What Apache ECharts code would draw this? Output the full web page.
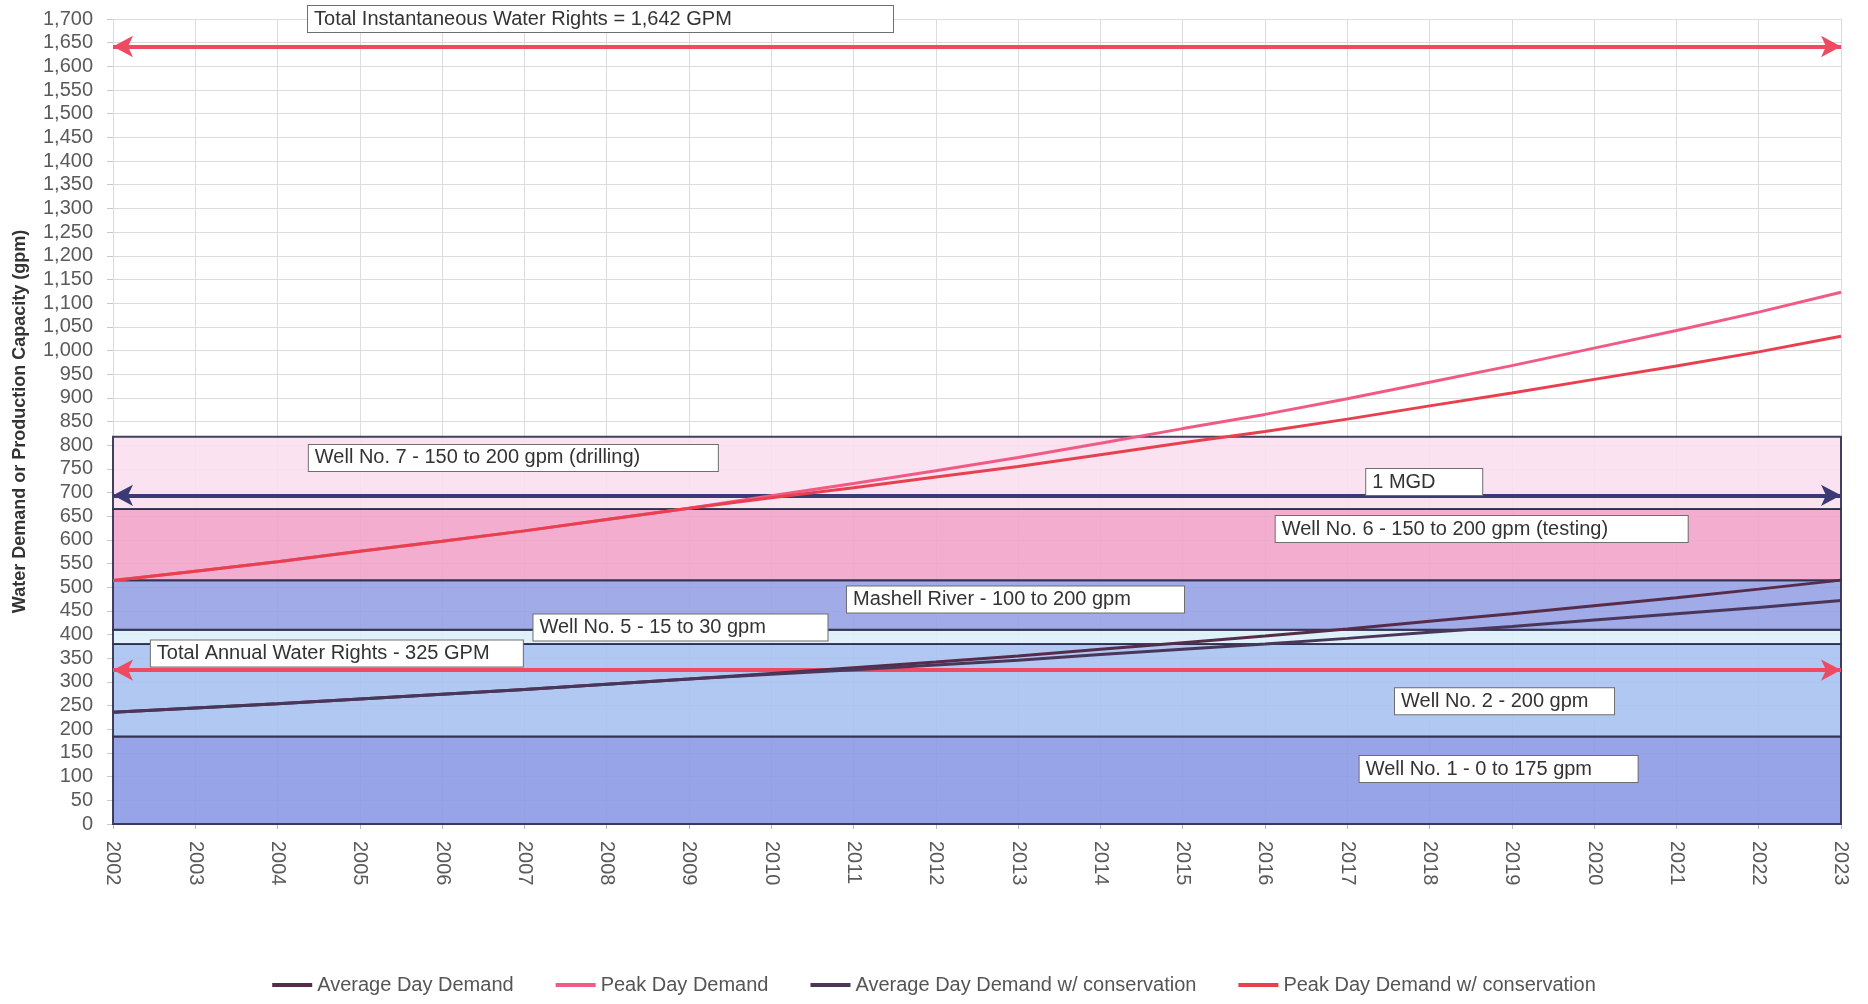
<!DOCTYPE html>
<html>
<head>
<meta charset="utf-8">
<script src="https://cdn.jsdelivr.net/npm/echarts@6/dist/echarts.min.js"></script>
<style>
html,body{margin:0;padding:0;background:#ffffff;}
#chart{width:1868px;height:1004px;}
</style>
</head>
<body>
<div id="chart"></div>
<script>
// ---------------- data ----------------
const years = [2002,2003,2004,2005,2006,2007,2008,2009,2010,2011,2012,2013,2014,2015,2016,2017,2018,2019,2020,2021,2022,2023];
const avgDemand      = [236,245,254,264,274,284,295,306,318,330,342,355,369,383,397,412,428,444,461,478,496,515];
const peakDemand     = [514,534,554,576,597,619,643,667,693,719,746,774,804,835,865,898,933,968,1005,1042,1081,1123];
const avgDemandCons  = [236,245,254,264,274,284,295,306,316,326,336,346,358,369,380,392,405,417,431,444,457,472];
const peakDemandCons = [514,534,554,576,597,619,643,667,689,710,733,755,780,805,829,855,883,910,939,967,997,1030];

const seriesNames = ['Average Day Demand','Peak Day Demand','Average Day Demand w/ conservation','Peak Day Demand w/ conservation'];

// supply bands (gpm)
const bandNames = ['Well No. 1','Well No. 2','Well No. 5','Mashell River','Well No. 6','Well No. 7'];
const bandLower = [0,185,380,410,515,665];
const bandUpper = [185,380,410,515,665,818];

// reference levels (gpm)
const instantaneousRights = 1642;
const annualRights = 325;
const oneMGD = 694;

const yTickMin = 0, yTickMax = 1700, yTickStep = 50;

// annotation texts
const annoTexts = [
  'Total Instantaneous Water Rights = 1,642 GPM',
  'Well No. 7 - 150 to 200 gpm (drilling)',
  '1 MGD',
  'Well No. 6 - 150 to 200 gpm (testing)',
  'Mashell River - 100 to 200 gpm',
  'Well No. 5 - 15 to 30 gpm',
  'Total Annual Water Rights - 325 GPM',
  'Well No. 2 - 200 gpm',
  'Well No. 1 - 0 to 175 gpm'
];

// ---------------- layout / style ----------------
const annoAnchor = [ // [year, gpm] at left-middle of box
  [2004.37,1700],[2004.38,773],[2017.23,722],[2016.13,623],[2010.92,474],
  [2007.11,415],[2002.46,360],[2017.58,259],[2017.15,116]
];
const annoWidth = [585,409,116,412,337,294,372,219,278];

const bandColors = ['#8c9be6','#a8c2f2','#dcf0fa','#96a2e6','#f2a4c9','#fbdff0'];
const lineColors = ['#562c4a','#f25a86','#4a3659','#e8404f'];
const FONT = '"Liberation Sans", Arial, sans-serif';

const chart = echarts.init(document.getElementById('chart'), null, {renderer:'canvas'});

function pairs(arr){ return years.map((y,i)=>[y,arr[i]]); }

function arrowSeries(value, color){
  return {
    type:'line', data:[], silent:true, z:4,
    markLine:{
      silent:true, animation:false,
      symbol:['arrow','arrow'], symbolSize:[16,20],
      label:{show:false},
      lineStyle:{color:color, width:4, type:'solid', opacity:1},
      itemStyle:{color:color},
      data:[[{coord:[years[0],value]},{coord:[years[years.length-1],value]}]]
    }
  };
}

const option = {
  animation:false,
  backgroundColor:'#ffffff',
  textStyle:{fontFamily:FONT},
  grid:{left:113,right:27,top:19,bottom:180,containLabel:false},
  legend:{
    data:seriesNames,
    top:970, left:'center',
    icon:'rect', itemWidth:40, itemHeight:4, itemGap:42,
    textStyle:{fontSize:20,color:'#555',fontFamily:FONT}
  },
  xAxis:{
    type:'value', min:years[0], max:years[years.length-1], interval:1,
    axisLine:{show:true,lineStyle:{color:'#bbbbbb'}},
    axisTick:{show:true,length:5,lineStyle:{color:'#bbbbbb'}},
    axisLabel:{rotate:-90, fontSize:20, color:'#5a5a5a', margin:17, fontFamily:FONT,
      formatter:function(v){return String(v);}},
    splitLine:{show:true,lineStyle:{color:'#dcdcdc',width:1}}
  },
  yAxis:{
    type:'value', min:yTickMin, max:yTickMax, interval:yTickStep,
    name:'Water Demand or Production Capacity (gpm)',
    nameLocation:'middle', nameGap:84,
    nameTextStyle:{fontSize:18,fontWeight:'bold',color:'#333',fontFamily:FONT},
    axisLine:{show:false},
    axisTick:{show:true,length:6,lineStyle:{color:'#c8c8c8'}},
    axisLabel:{fontSize:20,color:'#5a5a5a',margin:20,fontFamily:FONT},
    splitLine:{show:true,lineStyle:{color:'#dcdcdc',width:1}}
  },
  series:[
    {
      name:'bands', type:'line', data:[], silent:true, z:1,
      markArea:{
        silent:true,
        label:{show:false},
        data: bandNames.map((n,i)=>[
          {name:n, yAxis:bandLower[i], itemStyle:{color:bandColors[i], opacity:0.9, borderColor:'#2e2d4d', borderWidth:2}},
          {yAxis:bandUpper[i]}
        ])
      }
    },
    arrowSeries(instantaneousRights,'#ee4a62'),
    arrowSeries(oneMGD,'#3c3a74'),
    arrowSeries(annualRights,'#ee4a62'),
    {name:seriesNames[0],type:'line',data:pairs(avgDemand),showSymbol:false,symbol:'none',z:5,
      color:lineColors[0],lineStyle:{width:3,color:lineColors[0]}},
    {name:seriesNames[1],type:'line',data:pairs(peakDemand),showSymbol:false,symbol:'none',z:5,
      color:lineColors[1],lineStyle:{width:3,color:lineColors[1]}},
    {name:seriesNames[2],type:'line',data:pairs(avgDemandCons),showSymbol:false,symbol:'none',z:5,
      color:lineColors[2],lineStyle:{width:3,color:lineColors[2]}},
    {name:seriesNames[3],type:'line',data:pairs(peakDemandCons),showSymbol:false,symbol:'none',z:5,
      color:lineColors[3],lineStyle:{width:3,color:lineColors[3]}}
  ]
};

chart.setOption(option);

const graphics = annoTexts.map((t,i)=>{
  const p = chart.convertToPixel({xAxisIndex:0,yAxisIndex:0}, annoAnchor[i]);
  return {
    type:'text', x:p[0], y:p[1], z:100, silent:true,
    style:{
      text:t, font:'20px ' + FONT, fill:'#333',
      align:'left', verticalAlign:'middle',
      backgroundColor:'#ffffff', borderColor:'#6e6e6e', borderWidth:1,
      padding:[3,6,3,6], width:annoWidth[i]-12
    }
  };
});
chart.setOption({graphic:graphics});
</script>
</body>
</html>
